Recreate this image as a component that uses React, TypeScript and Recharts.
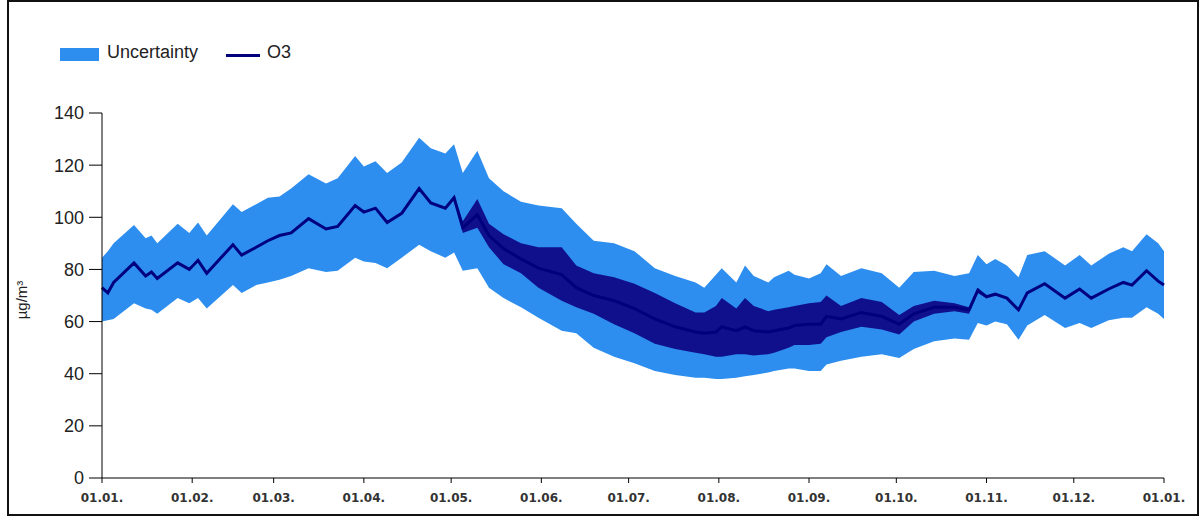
import { ComposedChart, Area, Line, XAxis, YAxis } from 'recharts';

const days = [
  0, 2, 4, 11, 15, 17, 19, 26, 30, 33,
  36, 45, 48, 53, 57, 61, 65, 71, 77, 81,
  87, 90, 94, 98, 103, 109, 113, 118, 121, 124,
  129, 133, 138, 144, 150, 158, 163, 169, 176, 183,
  190, 197, 204, 207, 211, 213, 218, 221, 224, 229,
  231, 236, 238, 243, 247, 249, 254, 261, 268, 274,
  279, 286, 293, 298, 301, 304, 307, 311, 315, 318,
  324, 331, 336, 340, 346, 351, 354, 359, 363, 365,
];

// O3 (µg/m³)
const o3 = [
  73, 71, 75, 82.5, 77.5, 79, 76.5, 82.5, 80, 83.5,
  78.5, 89.5, 85.5, 88.5, 91, 93, 94, 99.5, 95.5, 96.5,
  104.5, 102, 103.5, 98, 101.5, 111, 105.5, 103.5, 107.5, 96,
  101, 93, 88, 84, 80.5, 78, 73, 70, 68, 65,
  61, 58, 56, 55.5, 56, 58, 56.5, 58, 56.5, 56,
  56.5, 57.5, 58.5, 59, 59, 62, 61, 63.5, 62, 59,
  63, 65.5, 65.5, 64.5, 72, 69.5, 70.5, 69, 64.5, 71,
  74.5, 69, 72.5, 69, 72.5, 75, 74, 79.5, 75.5, 74,
];

// daily swing of the O3 curve in summer (dark band), null where the curve is a thin line
const o3Max = [
  null, null, null, null, null, null, null, null, null, null,
  null, null, null, null, null, null, null, null, null, null,
  null, null, null, null, null, null, null, null, 108, 98.5,
  107, 97.5, 93.5, 90, 88.5, 88.5, 81.5, 78.5, 77, 74.5,
  71, 67, 63.5, 63.5, 66, 69, 65, 69, 66, 64,
  64.5, 65.5, 66, 67, 67.5, 70, 66, 69, 67.5, 62.5,
  66, 68, 67, 65.5, 73, 70, null, null, null, null,
  null, null, null, null, null, null, null, null, null, null,
];
const o3Min = [
  null, null, null, null, null, null, null, null, null, null,
  null, null, null, null, null, null, null, null, null, null,
  null, null, null, null, null, null, null, null, 107, 94,
  96, 88.5, 82, 78.5, 73, 68, 65.5, 63, 59, 55.5,
  51.5, 49.5, 48, 47.5, 46.5, 46.5, 47.5, 47.5, 47, 47.5,
  48, 50, 51, 51, 51.5, 54, 56, 58, 57, 55,
  60, 63, 64, 63, 71, 69, null, null, null, null,
  null, null, null, null, null, null, null, null, null, null,
];

// uncertainty band
const uncHigh = [
  84.5, 87, 90, 97, 92, 93, 90, 97.5, 94, 98,
  93, 105, 102, 105, 107.5, 108, 111, 116.5, 113, 115,
  123.5, 119.5, 121.5, 117, 121, 130.5, 126.5, 124.5, 128, 117,
  125.5, 115, 110, 106, 104.5, 103.5, 97.5, 91, 90, 87,
  80.5, 77.5, 75, 73, 78, 80.5, 75, 81.5, 77.5, 75,
  77, 79.5, 78, 76.5, 78.5, 82, 77.5, 80.5, 78.5, 73,
  79, 79.5, 77.5, 78.5, 85.5, 82, 84, 81.5, 77, 85.5,
  87, 81.5, 85.5, 81.5, 86, 88.5, 87, 93.5, 90, 87,
];
const uncLow = [
  60, 60.5, 61, 67, 65, 64.5, 63, 69, 67, 69,
  65, 74, 71, 74, 75, 76, 77.5, 80.5, 79, 79.5,
  84.5, 83, 82.5, 80.5, 84.5, 89.5, 87, 84.5, 86.5, 79.5,
  80.5, 73, 69, 65.5, 61.5, 56.5, 55.5, 50, 46.5, 44,
  41, 39.5, 38.5, 38.5, 38, 38, 38.5, 39, 39.5, 40.5,
  41, 42, 42, 41, 41, 43.5, 45, 46.5, 47.5, 46,
  49.5, 52.5, 53.5, 53, 59.5, 58.5, 60, 59, 53, 58.5,
  62.5, 57.5, 59.5, 57.5, 60.5, 61.5, 61.5, 65.5, 63, 61,
];

const monthTicks = [0, 31, 59, 90, 120, 151, 181, 212, 243, 273, 304, 334, 365];
const monthLabels = [
  '01.01.', '01.02.', '01.03.', '01.04.', '01.05.', '01.06.', '01.07.',
  '01.08.', '01.09.', '01.10.', '01.11.', '01.12.', '01.01.',
];
const yTicks = [0, 20, 40, 60, 80, 100, 120, 140];

const UNC_COLOR = '#2d8ef0';
const O3_COLOR = '#00007e';
const O3_BAND = '#10108c';

const rows = days.map((day, i) => ({
  day,
  o3: o3[i],
  o3Range: o3Min[i] == null ? null : [o3Min[i], o3Max[i]],
  uncertainty: [uncLow[i], uncHigh[i]],
}));

export default function App() {
  return (
    <div
      style={{
        position: 'fixed',
        left: 0,
        top: 0,
        width: 1202,
        height: 517,
        background: '#fff',
        fontFamily: '"Liberation Sans", Arial, sans-serif',
      }}
    >
      <ComposedChart
        width={1202}
        height={517}
        data={rows}
        margin={{ top: 113, right: 38, bottom: 9, left: 52 }}
      >
        <XAxis
          dataKey="day"
          type="number"
          domain={[0, 365]}
          ticks={monthTicks}
          interval={0}
          tickFormatter={(_v, i) => monthLabels[i]}
          tick={{ fontSize: 12, fontWeight: 'bold', fill: '#333', fontFamily: '"DejaVu Sans", Verdana, sans-serif' }}
          axisLine={{ stroke: '#000' }}
          tickLine={{ stroke: '#000' }}
          tickSize={5}
          tickMargin={10}
          height={30}
        />
        <YAxis
          type="number"
          domain={[0, 140]}
          ticks={yTicks}
          interval={0}
          tick={{ fontSize: 18, fill: '#222', fontFamily: '"Liberation Sans", Arial, sans-serif' }}
          axisLine={{ stroke: '#000' }}
          tickLine={{ stroke: '#000' }}
          tickSize={13}
          tickMargin={5}
          width={50}
        />
        <Area
          dataKey="uncertainty"
          type="linear"
          stroke="none"
          fill={UNC_COLOR}
          fillOpacity={1}
          isAnimationActive={false}
        />
        <Area
          dataKey="o3Range"
          type="linear"
          stroke="none"
          fill={O3_BAND}
          fillOpacity={1}
          isAnimationActive={false}
        />
        <Line
          dataKey="o3"
          type="linear"
          stroke={O3_COLOR}
          strokeWidth={3}
          dot={false}
          isAnimationActive={false}
        />
      </ComposedChart>

      {/* legend */}
      <div style={{ position: 'absolute', left: 60, top: 48, width: 39, height: 13, background: UNC_COLOR }} />
      <div style={{ position: 'absolute', left: 107, top: 41, fontSize: 18, color: '#222', lineHeight: '22px' }}>
        Uncertainty
      </div>
      <div style={{ position: 'absolute', left: 226, top: 54, width: 34, height: 3, background: O3_COLOR }} />
      <div style={{ position: 'absolute', left: 267, top: 41, fontSize: 18, color: '#222', lineHeight: '22px' }}>
        O3
      </div>

      {/* y axis title */}
      <div
        style={{
          position: 'absolute',
          left: 21,
          top: 300,
          fontSize: 15,
          color: '#222',
          transform: 'translate(-50%, -50%) rotate(-90deg)',
          whiteSpace: 'nowrap',
        }}
      >
        µg/m³
      </div>

      {/* frame */}
      <div
        style={{
          position: 'absolute',
          left: 7,
          top: 0,
          width: 1192,
          height: 516,
          border: '2px solid #111',
          boxSizing: 'border-box',
          pointerEvents: 'none',
        }}
      />
    </div>
  );
}
